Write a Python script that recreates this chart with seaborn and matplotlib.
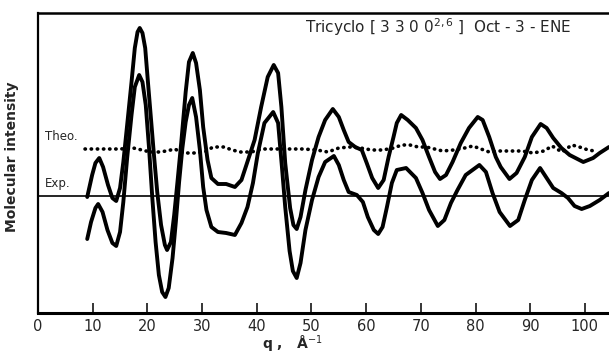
"""
Molecular intensity curves (theoretical / experimental) for Tricyclo[3300] Oct-3-ENE
"""

import matplotlib
matplotlib.use('Agg')
import matplotlib.pyplot as plt
import pandas as pd
import seaborn as sns

# q values (1/Angstrom) and intensities (arbitrary units)
theo_q = [9.0, 9.9, 10.5, 11.2, 11.9, 12.8, 13.6, 14.3, 15.0, 15.6, 16.3, 17.1,
          17.7, 18.2, 18.6, 19.1, 19.6, 20.1, 20.6, 21.2, 21.8, 22.5, 23.2,
          23.6, 24.3, 24.9, 25.5, 26.2, 27.0, 27.6, 28.3, 28.9, 29.6, 30.2,
          31.0, 31.7, 32.9, 34.4, 36.0, 37.2, 38.4, 39.6, 40.8, 42.0, 43.1,
          43.9, 44.5, 45.2, 46.1, 46.7, 47.3, 48.0, 48.9, 50.1, 51.3, 52.5, 53.9,
          55.0, 55.9, 56.8, 58.0, 59.2, 60.1, 61.1, 62.2, 63.2, 64.1, 65.0,
          65.6, 66.4, 67.6, 69.1, 70.3, 71.5, 72.6, 73.5, 74.6, 75.8, 77.3,
          78.8, 80.4, 81.3, 82.5, 83.7, 84.6, 86.2, 87.5, 89.0, 90.3, 91.9,
          93.0, 94.2, 95.7, 97.2, 99.7, 101.5, 102.7, 104.4]
theo_i = [116, 138, 150, 155, 146, 128, 115, 112, 125, 151, 188, 231,
          265, 281, 285, 280, 265, 231, 198, 158, 121, 88, 68,
          63, 71, 98, 131, 171, 221, 251, 260, 250, 223, 186,
          153, 135, 129, 129, 126, 133, 153, 173, 206, 236, 248,
          240, 206, 150, 105, 88, 84, 96, 123, 153, 176, 193, 204,
          196, 183, 171, 166, 163, 150, 135, 125, 133, 156, 176,
          190, 198, 193, 185, 173, 156, 141, 134, 138, 151, 170,
          185, 196, 193, 176, 156, 146, 134, 140, 156, 176, 189,
          185, 175, 165, 158, 151, 155, 160, 166]

exp_q = [9.0, 9.7, 10.5, 11.0, 11.8, 12.7, 13.6, 14.3, 15.0, 15.6, 16.3, 17.1,
         17.7, 18.5, 19.1, 19.7, 20.3, 20.9, 21.5, 22.1, 22.7, 23.3, 23.9,
         24.6, 25.2, 25.8, 26.4, 27.0, 27.6, 28.2, 28.9, 29.6, 30.2, 30.8,
         31.7, 32.9, 34.4, 36.0, 37.2, 38.3, 39.3, 40.2, 41.4, 43.0, 43.9,
         44.6, 45.2, 46.0, 46.6, 47.3, 48.0, 48.9, 50.1, 51.3, 52.5, 54.1,
         55.0, 55.9, 56.8, 58.3, 59.4, 60.3, 61.4, 62.2, 63.0, 63.8, 64.7,
         65.6, 67.3, 69.1, 70.3, 71.5, 73.1, 74.3, 75.5, 76.7, 78.2, 80.7,
         81.9, 83.1, 84.4, 86.3, 87.8, 89.0, 90.3, 91.8, 93.0, 94.2, 95.7,
         96.9, 98.1, 99.4, 100.9, 102.7, 104.4]
exp_i = [74, 91, 105, 109, 101, 83, 70, 67, 81, 111, 155, 198,
         226, 238, 231, 208, 165, 115, 71, 38, 21, 16, 25,
         55, 91, 131, 165, 191, 208, 215, 196, 163, 126, 103,
         86, 81, 80, 78, 90, 106, 130, 160, 190, 201, 190,
         146, 106, 62, 42, 35, 50, 83, 113, 136, 151, 157,
         148, 133, 121, 118, 111, 96, 83, 79, 86, 106, 130,
         143, 145, 135, 120, 103, 87, 93, 110, 123, 138, 148,
         141, 120, 101, 87, 93, 113, 133, 145, 135, 125, 120,
         115, 107, 104, 107, 113, 120]

# dotted reference trace
dots_q = [8.6, 12.0, 15.0, 17.4, 19.0, 20.5, 22.0, 23.5, 25.0, 26.5, 28.5, 30.5,
          32.0, 34.0, 35.5, 37.0, 39.0, 41.0, 43.5, 46.0, 48.5, 51.0, 53.0,
          55.0, 57.0, 59.0, 61.0, 63.0, 65.0, 66.5, 68.0, 69.5, 71.0, 72.5,
          74.0, 76.0, 78.0, 79.5, 81.0, 82.5, 84.5, 86.5, 88.5, 90.5, 92.5,
          94.0, 95.8, 97.6, 99.0, 100.6, 101.8]
dots_i = [164, 164, 164, 165, 163, 161, 161, 162, 164, 160, 160, 161,
          166, 166, 163, 161, 161, 164, 164, 164, 164, 163, 161,
          165, 166, 165, 163, 163, 165, 168, 168, 166, 166, 164,
          162, 163, 165, 167, 164, 161, 162, 162, 162, 160, 162,
          167, 161, 168, 166, 163, 162]

x_ticks = [0, 10, 20, 30, 40, 50, 60, 70, 80, 90, 100]
zero_level = 117

sns.set_style('white')
plt.rcParams['font.family'] = ['DejaVu Sans']

fig = plt.figure(figsize=(6.09, 3.54), dpi=100)
ax = fig.add_axes([38 / 609, 1 - 313 / 354, 571 / 609, 300 / 354])

df_theo = pd.DataFrame({'q': theo_q, 'I': theo_i})
df_exp = pd.DataFrame({'q': exp_q, 'I': exp_i})
df_dots = pd.DataFrame({'q': dots_q, 'I': dots_i})

line_kw = dict(color='black', linewidth=2.8, estimator=None, sort=False,
               solid_joinstyle='round', solid_capstyle='round')
sns.lineplot(data=df_theo, x='q', y='I', ax=ax, **line_kw)
sns.lineplot(data=df_exp, x='q', y='I', ax=ax, **line_kw)
sns.lineplot(data=df_dots, x='q', y='I', ax=ax, color='black', linewidth=2.6,
             estimator=None, sort=False, linestyle=(0, (0.1, 1.6)),
             dash_capstyle='round')

ax.axhline(zero_level, color='black', linewidth=1.2)

ax.set_xlim(0, 104.4)
ax.set_ylim(0, 300)
ax.set_xticks(x_ticks)
ax.set_yticks([])
ax.tick_params(axis='x', direction='in', length=7, width=1.3, labelsize=10.5,
               pad=4, bottom=True)

for side in ['left', 'bottom', 'top']:
    ax.spines[side].set_visible(True)
    ax.spines[side].set_color('black')
ax.spines['left'].set_linewidth(1.6)
ax.spines['bottom'].set_linewidth(2.2)
ax.spines['top'].set_linewidth(1.8)
ax.spines['right'].set_visible(False)

ax.set_ylabel('Molecular intensity', fontsize=10, fontweight='bold')
ax.yaxis.set_label_coords(-0.033, 0.52)
ax.set_xlabel(r'q ,   Å$^{-1}$', fontsize=10, fontweight='bold')
ax.xaxis.set_label_coords(0.445, -0.07)

ax.text(48.8, 286, r'Tricyclo [ 3 3 0 0$^{2,6}$ ]  Oct - 3 - ENE',
        fontsize=11, va='center', ha='left')
ax.text(1.3, 176, 'Theo.', fontsize=8.5, va='center', ha='left')
ax.text(1.3, 130, 'Exp.', fontsize=8.5, va='center', ha='left')

plt.savefig('out.png', dpi=100)
plt.close()
